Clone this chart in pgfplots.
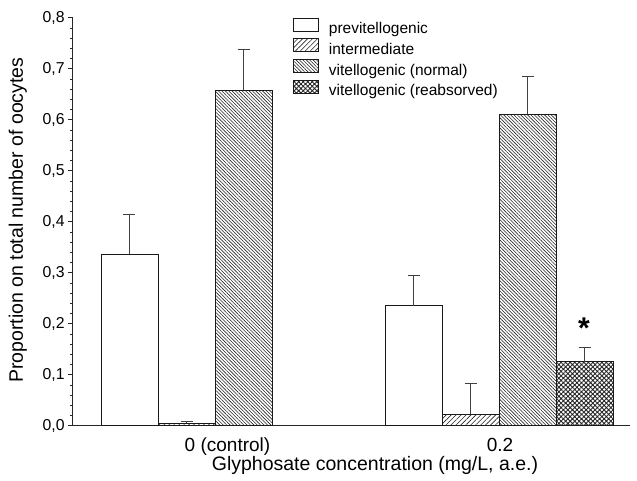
\documentclass[border=0pt]{standalone}
\usepackage{fontspec}
\setmainfont{Liberation Sans}
\usepackage{pgfplots}
\usepackage{pgfplotstable}
\pgfplotsset{compat=1.18}
\usetikzlibrary{patterns.meta}

\pgfplotsset{boxlegend/.style={legend image code/.code={\draw[##1] (0pt,-1.2pt) rectangle (25pt,11.8pt);}}}

\pgfplotstableread{
x y e
129.5 0.336 0.078
413.5 0.235 0.059
}\previt
\pgfplotstableread{
x y e
186.5 0.0045 0.0045
470.5 0.022 0.060
}\interm
\pgfplotstableread{
x y e
243.5 0.658 0.080
527.5 0.611 0.073
}\vitnorm
\pgfplotstableread{
x y e
584.5 0.1255 0.028
}\vitreab

\begin{document}
\begin{tikzpicture}
\begin{axis}[
  scale only axis, width=557.3pt, height=408pt,
  xmin=72.7, xmax=630, ymin=0, ymax=0.8,
  axis x line*=bottom, axis y line*=left,
  axis line style={-, line width=0.9pt, color=black!85},
  xtick={227.5,500}, xticklabels={0 (control),0.2},
  xtick style={draw=none},
  xticklabel style={font=\fontsize{19}{22}\selectfont, anchor=base, yshift=-21.5pt},
  ytick={0,0.1,0.2,0.3,0.4,0.5,0.6,0.7,0.8},
  minor y tick num=4,
  tick align=outside,
  major tick length=4.5pt, minor tick length=2.7pt,
  ytick style={line width=0.8pt, color=black!85},
  yticklabel style={/pgf/number format/.cd, fixed, fixed zerofill, precision=1, use comma, assume math mode=true, /tikz/.cd, font=\fontsize{15.8}{18}\selectfont},
  ylabel={Proportion on total number of oocytes},
  ylabel style={at={(axis cs:23,0.403)}, anchor=base, font=\fontsize{19.5}{22}\selectfont},
  xlabel={Glyphosate concentration (mg/L, a.e.)},
  xlabel style={at={(axis cs:375,-0.0869)}, anchor=base, font=\fontsize{19.5}{22}\selectfont},
  legend style={at={(axis cs:293,0.8)}, anchor=north west, draw=none, fill=none,
    inner sep=0pt, outer sep=0pt, font=\fontsize{15.5}{18}\selectfont,
    nodes={inner sep=0pt, text height=11pt, text depth=3.5pt},
    row sep=1.2pt, column sep=10pt},
  legend cell align=left,
  error bars/y dir=plus, error bars/y explicit,
  error bars/error bar style={line width=0.9pt, color=black!75},
  error bars/error mark options={rotate=90, mark size=6pt, line width=0.9pt, color=black!75},
]
\addplot[ybar, boxlegend, bar width=57, bar shift=0pt, draw=black!90, line width=0.9pt, fill=white]
  table[x=x, y=y, y error=e] {\previt};
\addlegendentry{previtellogenic}
\addplot[ybar, boxlegend, bar width=57, bar shift=0pt, draw=black!90, line width=0.9pt,
  pattern={Lines[angle=45, distance=3.5pt, line width=0.6pt]}, pattern color=black!85]
  table[x=x, y=y, y error=e] {\interm};
\addlegendentry{intermediate}
\addplot[ybar, boxlegend, bar width=57, bar shift=0pt, draw=black!90, line width=0.9pt,
  pattern={Lines[angle=-45, distance=2.4pt, line width=0.6pt]}, pattern color=black!85]
  table[x=x, y=y, y error=e] {\vitnorm};
\addlegendentry{vitellogenic (normal)}
\addplot[ybar, boxlegend, bar width=57, bar shift=0pt, draw=black!90, line width=0.9pt,
  pattern={Hatch[angle=45, distance=3.2pt, line width=0.9pt]}, pattern color=black!85]
  table[x=x, y=y, y error=e] {\vitreab};
\addlegendentry{vitellogenic (reabsorved)}
\node[font=\fontsize{30}{30}\selectfont\bfseries, anchor=base] at (axis cs:584,0.171) {*};
\end{axis}
\pgfresetboundingbox
\path[use as bounding box] (-72.7pt,-54.3pt) rectangle (564.3pt,425.7pt);
\end{tikzpicture}
\end{document}
